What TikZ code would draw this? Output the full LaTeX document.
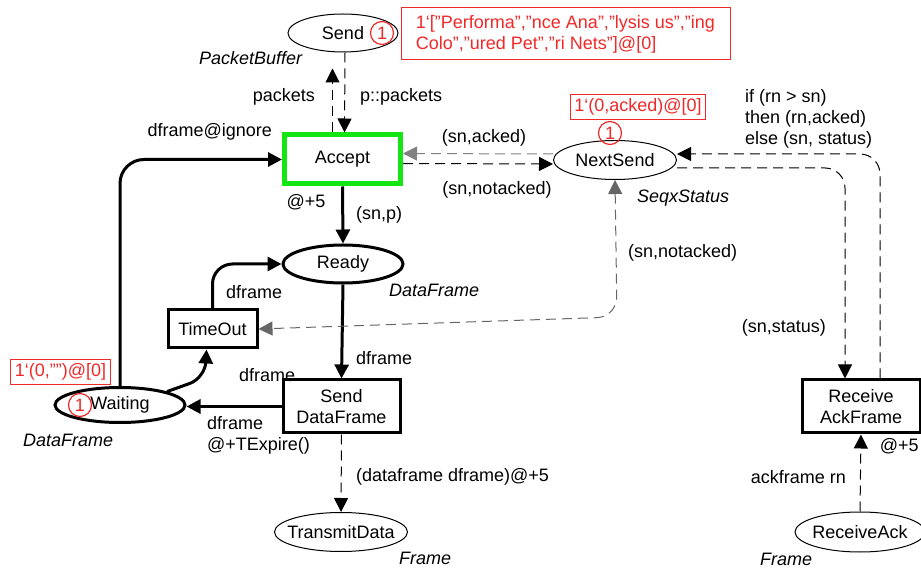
\documentclass[tikz,border=0pt]{standalone}
\usepackage{fontspec}
\setmainfont{Liberation Sans}
\usetikzlibrary{arrows.meta,positioning,shapes.geometric,calc}
\definecolor{cpngreen}{RGB}{20,230,20}
\definecolor{cpnred}{RGB}{240,40,40}

\begin{document}
\begin{tikzpicture}[x=0.5pt,y=-0.5pt,
  >={Triangle[length=7pt,width=7pt]},
  font=\fontsize{9}{10.5}\selectfont,
  place/.style={ellipse,draw,line width=0.5pt,inner sep=0pt},
  bigplace/.style={place,line width=1.5pt},
  trans/.style={rectangle,draw,line width=1.5pt,align=center,inner sep=0pt},
  marking/.style={draw=cpnred,text=cpnred,line width=0.5pt,inner sep=2pt,align=left},
  token/.style={circle,draw=cpnred,text=cpnred,line width=0.6pt,inner sep=0pt,minimum size=11.5pt},
  colset/.style={font=\fontsize{9}{10.5}\selectfont\itshape},
  arc/.style={->,line width=1.5pt},
  darc/.style={->,line width=0.5pt,dash pattern=on 5pt off 3pt}]
  \useasboundingbox (0,0) rectangle (921,571);
  % Places
  \node[place,minimum width=55pt,minimum height=19pt,label=center:Send] (send) at (343,33) {};
  \node[place,minimum width=61.5pt,minimum height=19.5pt,label=center:NextSend] (nextsend) at (615,160) {};
  \node[bigplace,minimum width=60pt,minimum height=19pt,label=center:Ready] (ready) at (343,264) {};
  \node[bigplace,minimum width=65pt,minimum height=17.5pt,label=center:Waiting] (waiting) at (120,405) {};
  \node[place,minimum width=66.5pt,minimum height=19.5pt,label=center:TransmitData] (tdata) at (341,532) {};
  \node[place,minimum width=65pt,minimum height=20pt,label=center:ReceiveAck] (rack) at (860,532) {};
  % Transitions
  \node[trans,draw=cpngreen,line width=2.5pt,minimum width=58pt,minimum height=24.5pt] (accept) at (342.5,159.5) {Accept};
  \node[trans,minimum width=44.5pt,minimum height=19pt] (timeout) at (212.5,329) {TimeOut};
  \node[trans,minimum width=58.5pt,minimum height=26.5pt] (sdf) at (341.5,406.5) {Send\\DataFrame};
  \node[trans,minimum width=59pt,minimum height=26.5pt] (rackf) at (861,406.5) {Receive\\AckFrame};
  % Colour sets
  \node[colset,anchor=west] (csend) at (192,58) {PacketBuffer};
  \node[colset,anchor=west] (cnext) at (630,198) {SeqxStatus};
  \node[colset,anchor=west] (cready) at (382,290) {DataFrame};
  \node[colset,anchor=west] (cwait) at (16,440) {DataFrame};
  \node[colset,anchor=west] (ctdata) at (392,558) {Frame};
  \node[colset,anchor=west] (crack) at (753,559) {Frame};
  % Markings
  \node[token] (tksend) at (382,33) {1};
  \node[marking,minimum width=164.5pt,minimum height=26pt] (mksend) at (565.5,34)
    {1`["Performa","nce Ana","lysis us","ing\\Colo","ured Pet","ri Nets"]@[0]};
  \node[token] (tknext) at (610,133) {1};
  \node[marking] (mknext) at (638,107) {1`(0,acked)@[0]};
  \node[token] (tkwait) at (80,405) {1};
  \node[marking] (mkwait) at (60.5,372) {1`(0,"")@[0]};
  % Arcs
  \draw[darc,shorten >=8pt] ([xshift=-5pt]accept.north) -- ([xshift=-5pt]accept.north |- send.south);
  \draw[darc] ([xshift=1pt]send.south) -- ([xshift=1pt]accept.north);
  \draw[arc] (accept.south) -- (ready.north);
  \draw[arc] (ready.south) -- (sdf.north);
  \draw[arc] (sdf.west) -- (sdf.west -| waiting.east);
  \draw[arc,rounded corners=8pt] (waiting.north east) -- (205,378) -- ([xshift=-3pt]timeout.south);
  \draw[arc,rounded corners=10pt] (timeout.north) |- (ready.west);
  \draw[arc,rounded corners=12pt] (waiting.north) |- (accept.west);
  \draw[darc,gray] ([yshift=3pt]nextsend.west) -- ([yshift=3pt]accept.east);
  \draw[darc] ([yshift=-2pt]accept.east) -- ([yshift=-2pt]nextsend.west);
  \draw[darc,<->,gray!80!black,rounded corners=10pt] (nextsend.south) -- (617,317) -- (timeout.east);
  \draw[darc,rounded corners=10pt] ([yshift=-4pt]nextsend.east) -| ([xshift=-8pt]rackf.north);
  \draw[darc,rounded corners=10pt] ([xshift=9.5pt]rackf.north) |- ([yshift=3pt]nextsend.east);
  \draw[darc] (rack.north) -- (rackf.south);
  \draw[darc] (sdf.south) -- (tdata.north);
  % Inscriptions
  \node[anchor=east] (ipk) at (322,97) {packets};
  \node[anchor=west] (ipp) at (353,97) {p::packets};
  \node[anchor=east] (iign) at (279,132) {dframe@ignore};
  \node (idel) at (306,202) {@+5};
  \node[anchor=west] (isnp) at (349,215) {(sn,p)};
  \node (iack) at (484,138) {(sn,acked)};
  \node (inack) at (497,190) {(sn,notacked)};
  \node[anchor=west] (inack2) at (621,253) {(sn,notacked)};
  \node[anchor=north west,align=left] (iif) at (738,82) {if (rn > sn)\\then (rn,acked)\\else (sn, status)};
  \node[anchor=east] (istat) at (833,328) {(sn,status)};
  \node[anchor=east,inner sep=1pt] (idel2) at (921,446) {@+5};
  \node[anchor=east] (iackrn) at (853,477) {ackframe rn};
  \node[anchor=west] (ito) at (219,292) {dframe};
  \node[anchor=west] (ird) at (349,358) {dframe};
  \node[anchor=west] (iwt) at (232,375) {dframe};
  \node[anchor=north west,align=left] (iexp) at (200,409) {dframe\\@+TExpire()};
  \node[anchor=west] (itx) at (349,477) {(dataframe dframe)@+5};
\end{tikzpicture}
\end{document}
